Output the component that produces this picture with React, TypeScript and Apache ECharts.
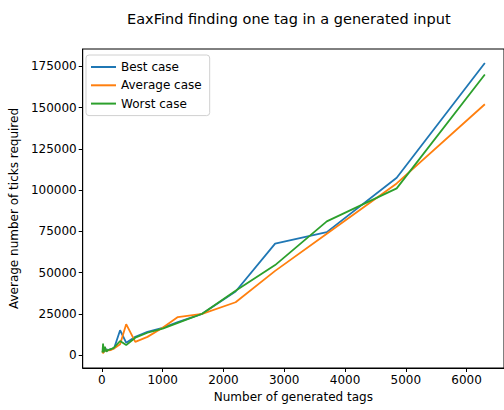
import React, { useEffect, useRef } from "react";
import * as echarts from "echarts";

const tags = [10, 20, 30, 50, 75, 100, 150, 200, 300, 400, 550, 750, 1000, 1250, 1650, 2200, 2850, 3700, 4850, 6300];
const bestCase = [2000, 1500, 3000, 2500, 3500, 3000, 3500, 4000, 15000, 7500, 11000, 14000, 16500, 20000, 25000, 38500, 67500, 74500, 107500, 177000];
const averageCase = [2500, 1000, 2000, 3000, 2500, 2800, 3000, 4000, 6500, 18700, 8000, 11000, 16500, 23000, 25000, 32000, 51000, 73500, 104000, 152000];
const worstCase = [1500, 7000, 1500, 5000, 2000, 3000, 3500, 4500, 8500, 6000, 10500, 13500, 16000, 19500, 25000, 39000, 54500, 81000, 101000, 170000];
const xTicks = [0, 1000, 2000, 3000, 4000, 5000, 6000];
const yTicks = [0, 25000, 50000, 75000, 100000, 125000, 150000, 175000];

const FONT = "DejaVu Sans";

export default function App() {
  const ref = useRef<HTMLDivElement>(null);
  useEffect(() => {
    const chart = echarts.init(ref.current!, undefined, { renderer: "svg" });
    const mk = (name: string, ys: number[], color: string) => ({
      name,
      type: "line",
      data: tags.map((x, i) => [x, ys[i]]),
      showSymbol: false,
      symbol: "none",
      lineStyle: { color, width: 1.8 },
      itemStyle: { color },
    });
    chart.setOption({
      animation: false,
      textStyle: { fontFamily: FONT },
      title: {
        text: "EaxFind finding one tag in a generated input",
        left: 122,
        top: 6,
        textStyle: { fontFamily: FONT, fontSize: 14.5, fontWeight: "normal", color: "#000" },
      },
      grid: {
        left: 79,
        top: 49,
        right: -4,
        bottom: 42,
        show: true,
        borderColor: "#000",
        borderWidth: 1,
        backgroundColor: "transparent",
      },
      legend: {
        orient: "vertical",
        left: 86,
        top: 55,
        padding: [5, 8, 5, 5],
        backgroundColor: "rgba(255,255,255,0.8)",
        borderColor: "#d0d0d0",
        borderWidth: 1,
        borderRadius: 3,
        itemWidth: 25,
        itemHeight: 2,
        itemGap: 4.3,
        icon: "rect",
        textStyle: { fontFamily: FONT, fontSize: 12, color: "#000", lineHeight: 14 },
        data: ["Best case", "Average case", "Worst case"],
      },
      xAxis: {
        type: "value",
        min: -315,
        max: 6615,
        name: "Number of generated tags",
        nameLocation: "middle",
        nameGap: 23,
        nameTextStyle: { fontFamily: FONT, fontSize: 12, color: "#000" },
        axisLine: { show: true, onZero: false, lineStyle: { color: "#000", width: 1 } },
        axisTick: { show: true, customValues: xTicks, length: 4, lineStyle: { color: "#000" } },
        axisLabel: {
          customValues: xTicks,
          formatter: (v: number) => String(v),
          fontFamily: FONT,
          fontSize: 12,
          color: "#000",
          margin: 6,
        },
        splitLine: { show: false },
      },
      yAxis: {
        type: "value",
        min: -7870,
        max: 185500,
        name: "Average number of ticks required",
        nameLocation: "middle",
        nameGap: 62,
        nameTextStyle: { fontFamily: FONT, fontSize: 12, color: "#000" },
        axisLine: { show: true, onZero: false, lineStyle: { color: "#000", width: 1 } },
        axisTick: { show: true, customValues: yTicks, length: 4, lineStyle: { color: "#000" } },
        axisLabel: {
          customValues: yTicks,
          formatter: (v: number) => String(v),
          fontFamily: FONT,
          fontSize: 12,
          color: "#000",
          margin: 6,
        },
        splitLine: { show: false },
      },
      series: [
        mk("Best case", bestCase, "#1f77b4"),
        mk("Average case", averageCase, "#ff7f0e"),
        mk("Worst case", worstCase, "#2ca02c"),
      ],
    });
    return () => chart.dispose();
  }, []);
  return (
    <div
      ref={ref}
      style={{ position: "fixed", left: 0, top: 0, width: 504, height: 410, background: "#fff" }}
    />
  );
}
